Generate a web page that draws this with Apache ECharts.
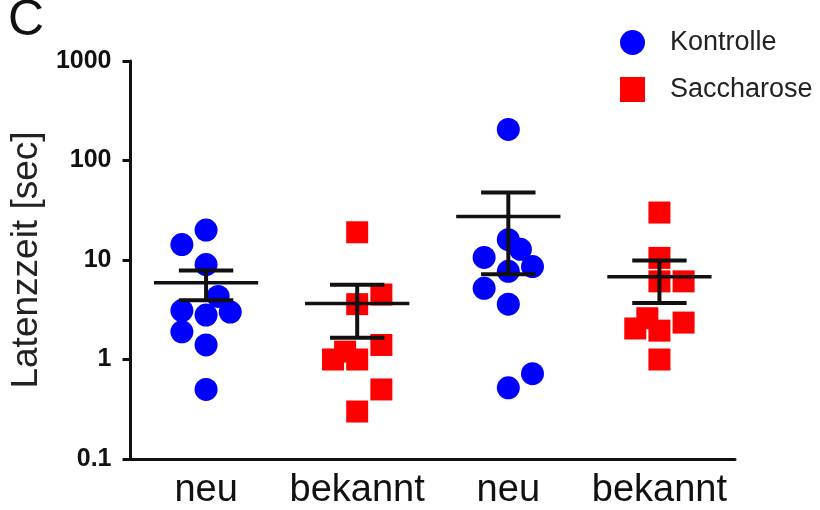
<!DOCTYPE html>
<html>
<head>
<meta charset="utf-8">
<script src="https://cdn.jsdelivr.net/npm/echarts@6/dist/echarts.min.js"></script>
<style>
  html, body { margin: 0; padding: 0; background: #fff; }
  #chart { width: 820px; height: 510px; }
</style>
</head>
<body>
<div id="chart"></div>
<script>
// Group labels on the x axis
const categories = ['neu', 'bekannt', 'neu', 'bekannt'];
const seriesNames = ['Kontrolle', 'Saccharose'];
const yTickLabels = ['0.1', '1', '10', '100', '1000'];

// Individual latencies (sec) per group
const kontrolleNeuA = [20, 14.3, 9, 4.3, 3.1, 2.8, 3.0, 1.9, 1.4, 0.5];
const saccharoseBekanntA = [19, 4.5, 3.6, 1.4, 1.2, 1.0, 1.0, 0.5, 0.3];
const kontrolleNeuB = [205, 16, 12.8, 10.6, 8.6, 7.7, 5.2, 3.6, 0.72, 0.52];
const saccharoseBekanntB = [30, 10.5, 6.1, 6.1, 2.6, 2.35, 2.05, 1.95, 1.0];

// Group mean and SEM
const groupMean = [5.9, 3.65, 27.4, 6.8];
const groupSem = [1.95, 2.0, 20.2, 3.1];

// Scatter lanes so overlapping points stay visible (one entry per point)
const lanesA = [0, -2, 0, 1, -2, 0, 2, -2, 0, 0];
const lanesB = [0, 2, 0, 2, -1, -2, 0, 2, 0];
const lanesC = [0, 0, 1, -2, 2, 0, -2, 0, 2, 0];
const lanesD = [0, 0, 0, 2, -1, 2, -2, 0, 0];
const laneStep = 0.08;

function points(groupIndex, values, lanes) {
  return values.map((v, i) => [groupIndex + lanes[i] * laneStep, v]);
}

const kontrolleData = points(0, kontrolleNeuA, lanesA).concat(points(2, kontrolleNeuB, lanesC));
const saccharoseData = points(1, saccharoseBekanntA, lanesB).concat(points(3, saccharoseBekanntB, lanesD));
const summaryData = groupMean.map((m, i) => [i, m, groupSem[i]]);

const chart = echarts.init(document.getElementById('chart'), null, { renderer: 'canvas' });

const labelFont = "'Liberation Sans', Arial, sans-serif";

chart.setOption({
  backgroundColor: '#ffffff',
  animation: false,
  graphic: [{
    type: 'text',
    left: 8,
    top: -4,
    style: { text: 'C', fontSize: 50, fontFamily: labelFont, fill: '#111' }
  }],
  legend: {
    orient: 'vertical',
    left: 615,
    top: 24,
    itemWidth: 25,
    itemHeight: 25,
    itemGap: 20,
    data: [
      { name: seriesNames[0], icon: 'circle' },
      { name: seriesNames[1], icon: 'rect' }
    ],
    textStyle: { fontSize: 27, fontFamily: labelFont, color: '#222', padding: [0, 0, 0, 20] }
  },
  grid: { left: 130, right: 85, top: 61, bottom: 51, containLabel: false },
  xAxis: [{
    type: 'category',
    data: categories,
    boundaryGap: true,
    axisLine: { onZero: false, lineStyle: { color: '#111', width: 3 } },
    axisTick: { alignWithLabel: true, length: 14, lineStyle: { color: '#111', width: 3 } },
    axisLabel: { interval: 0, fontSize: 38, fontFamily: labelFont, color: '#111', margin: 13 }
  }, {
    type: 'value',
    min: -0.5,
    max: 3.5,
    show: false
  }],
  yAxis: {
    type: 'log',
    logBase: 10,
    min: 0.1,
    max: 1000,
    name: 'Latenzzeit [sec]',
    nameLocation: 'middle',
    nameGap: 84,
    nameTextStyle: { fontSize: 37, fontFamily: labelFont, color: '#222' },
    axisLine: { show: true, onZero: false, lineStyle: { color: '#111', width: 3 } },
    axisTick: { show: true, length: 8, lineStyle: { color: '#111', width: 3 } },
    minorTick: { show: false },
    splitLine: { show: false },
    axisLabel: {
      fontSize: 25,
      fontWeight: 'bold',
      fontFamily: labelFont,
      color: '#111',
      margin: 19,
      formatter: function (v) {
        const k = Math.round(Math.log10(v)) + 1;
        return yTickLabels[k] !== undefined ? yTickLabels[k] : String(v);
      }
    }
  },
  series: [{
    name: seriesNames[0],
    type: 'scatter',
    xAxisIndex: 1,
    symbol: 'circle',
    symbolSize: 23,
    itemStyle: { color: '#0000ff', opacity: 1 },
    data: kontrolleData,
    z: 2
  }, {
    name: seriesNames[1],
    type: 'scatter',
    xAxisIndex: 1,
    symbol: 'rect',
    symbolSize: 22,
    itemStyle: { color: '#ff0000', opacity: 1 },
    data: saccharoseData,
    z: 2
  }, {
    type: 'custom',
    xAxisIndex: 1,
    z: 5,
    silent: true,
    data: summaryData,
    renderItem: function (params, api) {
      const x = api.value(0);
      const m = api.value(1);
      const s = api.value(2);
      const meanL = api.coord([x - 0.345, m]);
      const meanR = api.coord([x + 0.345, m]);
      const top = api.coord([x, m + s]);
      const bot = api.coord([x, m - s]);
      const capL = api.coord([x - 0.18, m])[0];
      const capR = api.coord([x + 0.18, m])[0];
      const st = { stroke: '#111', lineWidth: 4 };
      return {
        type: 'group',
        children: [
          { type: 'line', shape: { x1: meanL[0], y1: meanL[1], x2: meanR[0], y2: meanR[1] }, style: { stroke: '#111', lineWidth: 3.5 } },
          { type: 'line', shape: { x1: top[0], y1: top[1], x2: bot[0], y2: bot[1] }, style: st },
          { type: 'line', shape: { x1: capL, y1: top[1], x2: capR, y2: top[1] }, style: st },
          { type: 'line', shape: { x1: capL, y1: bot[1], x2: capR, y2: bot[1] }, style: st }
        ]
      };
    }
  }]
});
</script>
</body>
</html>
